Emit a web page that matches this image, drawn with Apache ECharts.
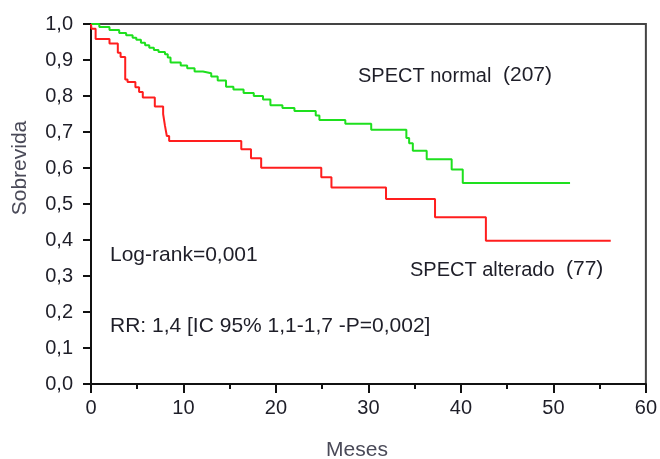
<!DOCTYPE html>
<html>
<head>
<meta charset="utf-8">
<script src="https://cdn.jsdelivr.net/npm/echarts@6/dist/echarts.min.js"></script>
<style>
  html, body { margin: 0; padding: 0; background: #fff; }
  #chart { width: 660px; height: 459px; }
</style>
</head>
<body>
<div id="chart"></div>
<script>
// eixo x (meses) e eixo y (sobrevida)
var xTicks = [0, 10, 20, 30, 40, 50, 60];
var yTicks = [0, 0.1, 0.2, 0.3, 0.4, 0.5, 0.6, 0.7, 0.8, 0.9, 1.0];

// SPECT normal (207) - [mes, sobrevida]
var normalTimes = [0, 0.9, 2.0, 3.05, 3.8, 4.5, 4.9, 5.4, 5.85, 6.3, 6.8, 7.3, 8.0, 8.3, 8.6, 9.7,
  10.4, 11.2, 12.1, 13.0, 13.7, 14.6, 15.4, 16.5, 17.6, 18.6, 19.4, 20.7, 22.0, 24.3, 24.7,
  27.5, 30.3, 34.1, 34.4, 34.8, 36.3, 39.0, 40.2, 51.8];
var normalSurv = [1.0, 0.992, 0.983, 0.975, 0.969, 0.962, 0.956, 0.948, 0.941, 0.934, 0.928, 0.922, 0.916, 0.907, 0.893, 0.885,
  0.877, 0.868, 0.863, 0.854, 0.843, 0.826, 0.818, 0.808, 0.800, 0.790, 0.774, 0.767, 0.758, 0.746, 0.733,
  0.723, 0.706, 0.683, 0.669, 0.648, 0.624, 0.596, 0.558, 0.558];

// SPECT alterado (77)
var alteradoTimes = [0, 0.05, 0.5, 2.0, 2.9, 3.2, 3.7, 3.95, 4.8, 5.2, 5.6, 6.9, 7.8, 8.0, 8.2, 8.45,
  16.25, 17.3, 18.4, 24.9, 26.0, 31.9, 37.2, 42.7, 56.2];
var alteradoSurv = [1.0, 0.987, 0.958, 0.946, 0.920, 0.908, 0.846, 0.839, 0.824, 0.811, 0.796, 0.771, 0.750, 0.717, 0.689, 0.675,
  0.652, 0.627, 0.601, 0.574, 0.546, 0.514, 0.463, 0.398, 0.398];

function pares(t, s) {
  var out = [];
  for (var i = 0; i < t.length; i++) out.push([t[i], s[i]]);
  return out;
}

var corTexto = '#1e1e28';
var fonte = 'Liberation Sans, Arial, sans-serif';

var chart = echarts.init(document.getElementById('chart'));
chart.setOption({
  animation: false,
  grid: {
    left: 91, top: 24, right: 13, bottom: 75,
    show: true, borderColor: '#444', borderWidth: 2, backgroundColor: 'transparent'
  },
  xAxis: {
    type: 'value',
    min: xTicks[0], max: xTicks[xTicks.length - 1], interval: 10,
    axisLine: { show: true, lineStyle: { color: '#111', width: 2 } },
    axisTick: { show: true, length: 9, lineStyle: { color: '#111', width: 2 } },
    minorTick: { show: true, splitNumber: 2, length: 5, lineStyle: { color: '#111', width: 2 } },
    splitLine: { show: false },
    axisLabel: { margin: 14, fontSize: 20, color: corTexto, fontFamily: fonte }
  },
  yAxis: {
    type: 'value',
    min: yTicks[0], max: yTicks[yTicks.length - 1], interval: 0.1,
    axisLine: { show: true, lineStyle: { color: '#111', width: 2 } },
    axisTick: { show: true, length: 8, lineStyle: { color: '#111', width: 2 } },
    splitLine: { show: false },
    axisLabel: {
      margin: 18, fontSize: 20, color: corTexto, fontFamily: fonte,
      formatter: function (v) { return v.toFixed(1).replace('.', ','); }
    }
  },
  series: [
    {
      name: 'SPECT normal',
      type: 'line', step: 'end', symbol: 'none',
      data: pares(normalTimes, normalSurv),
      lineStyle: { color: '#1ee01e', width: 2 }
    },
    {
      name: 'SPECT alterado',
      type: 'line', step: 'end', symbol: 'none',
      data: pares(alteradoTimes, alteradoSurv),
      lineStyle: { color: '#ff1e1e', width: 2 }
    }
  ],
  graphic: [
    { type: 'text', left: 358, top: 66, style: { text: 'SPECT normal', fontSize: 20, fill: corTexto, fontFamily: fonte } },
    { type: 'text', left: 503, top: 65, style: { text: '(207)', fontSize: 21, fill: corTexto, fontFamily: fonte } },
    { type: 'text', left: 410, top: 260, style: { text: 'SPECT alterado', fontSize: 20, fill: corTexto, fontFamily: fonte } },
    { type: 'text', left: 566, top: 259, style: { text: '(77)', fontSize: 21, fill: corTexto, fontFamily: fonte } },
    { type: 'text', left: 110, top: 245, style: { text: 'Log-rank=0,001', fontSize: 21, fill: corTexto, fontFamily: fonte } },
    { type: 'text', left: 110, top: 316, style: { text: 'RR: 1,4 [IC 95% 1,1-1,7 -P=0,002]', fontSize: 21, fill: corTexto, fontFamily: fonte } },
    { type: 'text', x: 357, y: 450, style: { text: 'Meses', fontSize: 21, fill: '#4a4a58', fontFamily: fonte, align: 'center', verticalAlign: 'middle' } },
    { type: 'text', x: 20, y: 168, rotation: Math.PI / 2, style: { text: 'Sobrevida', fontSize: 21, fill: '#4a4a58', fontFamily: fonte, align: 'center', verticalAlign: 'middle' } }
  ]
});
</script>
</body>
</html>
